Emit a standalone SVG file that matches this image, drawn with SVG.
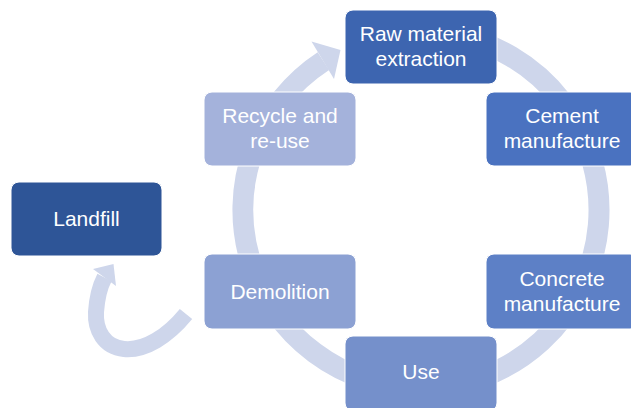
<svg xmlns="http://www.w3.org/2000/svg" width="631" height="408" viewBox="0 0 631 408">
<style>
.box{stroke:#ffffff;stroke-width:1}
.t{font-family:"Liberation Sans",Arial,sans-serif;font-size:21px;fill:#ffffff;text-anchor:middle}
.ring{fill:none;stroke:#CED6EB}
.head{fill:#CED6EB}
</style>
<rect width="631" height="408" fill="#ffffff"/>
<g id="connectors">
<path class="ring" stroke-width="21" d="M451.9,34.7 A178,178 0 0 1 421,388 A178,178 0 0 1 323.4,61.1"/>
<polygon class="head" points="311.5,41.5 340.5,50 334,79"/>
<path class="ring" stroke-width="16" d="M186,314 C168,336 145,351 124,349 C104,347 95,330 96,312 C97,298 99,288 104.5,277.5"/>
<polygon class="head" points="93,269 113.5,264 116,286"/>
</g>
<g id="raw">
<rect class="box" x="345" y="10" width="152" height="74" rx="8" fill="#3D65B0"/>
<text class="t" x="421" y="41">Raw material</text>
<text class="t" x="421" y="66">extraction</text>
</g>
<g id="cement">
<rect class="box" x="486" y="92" width="152" height="74" rx="8" fill="#4A72C0"/>
<text class="t" x="562" y="123">Cement</text>
<text class="t" x="562" y="148">manufacture</text>
</g>
<g id="concrete">
<rect class="box" x="486" y="254" width="152" height="75" rx="8" fill="#5D80C6"/>
<text class="t" x="562" y="285.5">Concrete</text>
<text class="t" x="562" y="310.5">manufacture</text>
</g>
<g id="use">
<rect class="box" x="345" y="336" width="152" height="75" rx="8" fill="#7590CB"/>
<text class="t" x="421" y="378.5">Use</text>
</g>
<g id="demolition">
<rect class="box" x="204" y="254" width="152" height="75" rx="8" fill="#8CA1D3"/>
<text class="t" x="280" y="299">Demolition</text>
</g>
<g id="recycle">
<rect class="box" x="204" y="92" width="152" height="74" rx="8" fill="#A4B2DB"/>
<text class="t" x="280" y="123">Recycle and</text>
<text class="t" x="280" y="148">re-use</text>
</g>
<g id="landfill">
<rect class="box" x="11" y="182" width="151" height="74" rx="8" fill="#2E5597"/>
<text class="t" x="86.5" y="226">Landfill</text>
</g>
</svg>
